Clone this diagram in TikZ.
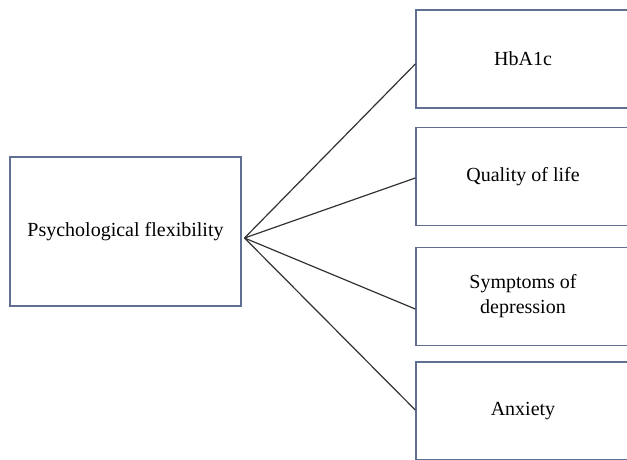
\documentclass[tikz,border=0pt]{standalone}
\usepackage{fontspec}
\setmainfont{Liberation Serif}
\usetikzlibrary{positioning}
\definecolor{boxline}{RGB}{96,110,145}
\definecolor{linkline}{RGB}{50,50,50}

\begin{document}
\begin{tikzpicture}[x=1pt, y=-1pt,
        factor/.style={draw=boxline, line width=1.4pt, align=center,
                       font=\fontsize{20}{25}\selectfont, inner sep=0pt},
        outcome/.style={factor, minimum width=214pt, minimum height=98pt},
        link/.style={draw=linkline, line width=1.2pt}
    ]
        \useasboundingbox (0,0) rectangle (627,459);
        \clip (0,0) rectangle (627,459);
        \node[factor, minimum width=231pt, minimum height=149pt] (psy) at (125.5, 231.5)
            {Psychological flexibility};
        \coordinate (hub) at (244.5, 238);

        \node[outcome] (hba) at (523, 59) {HbA1c};
        \node[outcome] (qol) at (523, 176.5) {Quality of life};
        \node[outcome] (dep) at (523, 296.5) {Symptoms of\\depression};
        \node[outcome] (anx) at (523, 411) {Anxiety};

        \foreach \b/\s in {hba/-5, qol/-1.5, dep/-12.5, anx/1}
            \draw[link] (hub) -- ([yshift=\s pt]\b.west);
    \end{tikzpicture}
\end{document}
